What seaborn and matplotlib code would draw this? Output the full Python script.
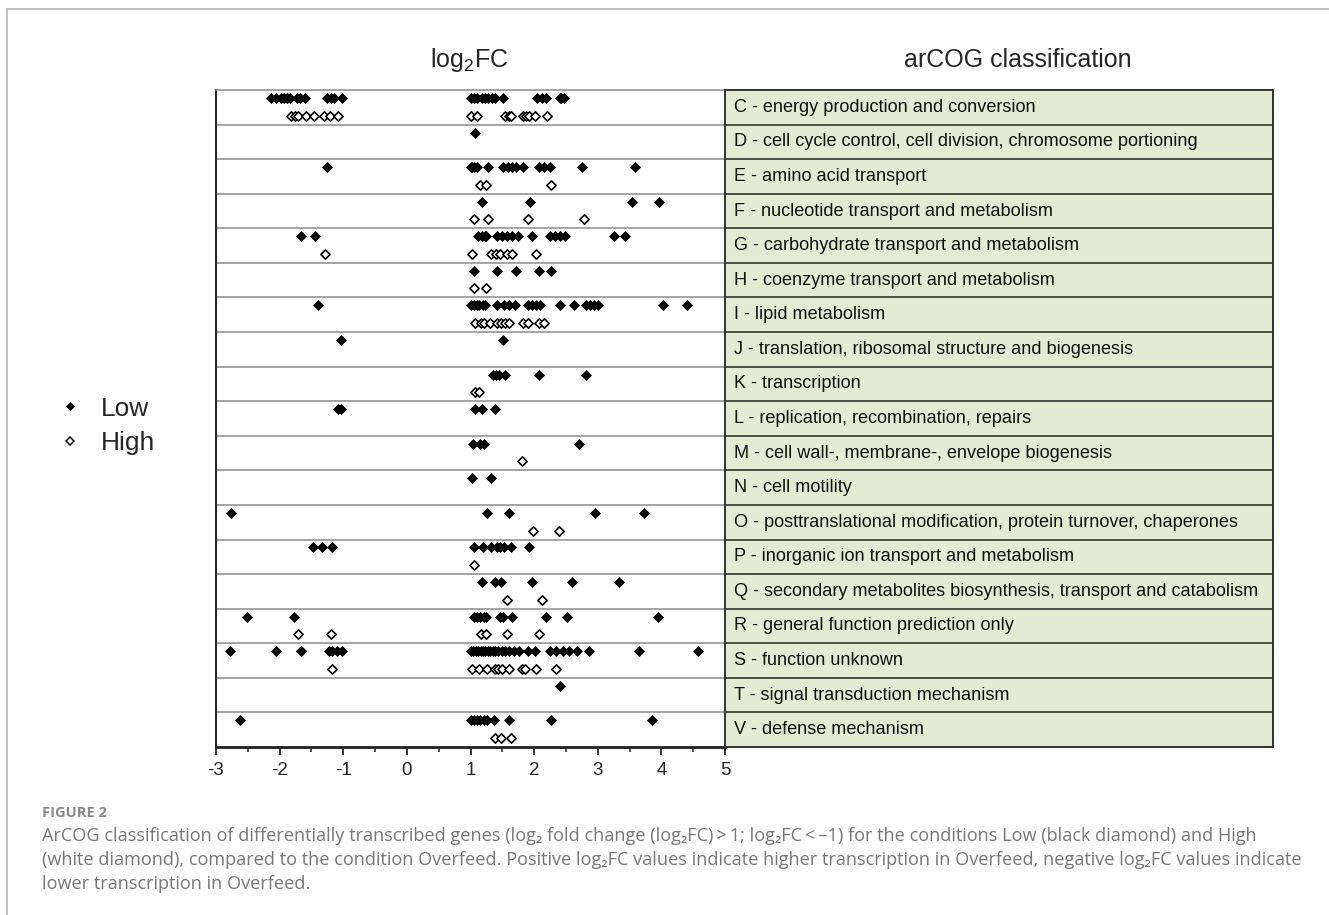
import numpy as np
import pandas as pd
import matplotlib
matplotlib.use('Agg')
import matplotlib.pyplot as plt
import seaborn as sns
from matplotlib.lines import Line2D
from matplotlib.ticker import MultipleLocator

# arCOG categories (top to bottom) and their descriptions
categories = ['C', 'D', 'E', 'F', 'G', 'H', 'I', 'J', 'K', 'L',
              'M', 'N', 'O', 'P', 'Q', 'R', 'S', 'T', 'V']
descriptions = [
    'energy production and conversion',
    'cell cycle control, cell division, chromosome portioning',
    'amino acid transport',
    'nucleotide transport and metabolism',
    'carbohydrate transport and metabolism',
    'coenzyme transport and metabolism',
    'lipid metabolism',
    'translation, ribosomal structure and biogenesis',
    'transcription',
    'replication, recombination, repairs',
    'cell wall-, membrane-, envelope biogenesis',
    'cell motility',
    'posttranslational modification, protein turnover, chaperones',
    'inorganic ion transport and metabolism',
    'secondary metabolites biosynthesis, transport and catabolism',
    'general function prediction only',
    'function unknown',
    'signal transduction mechanism',
    'defense mechanism',
]

# log2FC values, one list per category
low_values = [
    [-2.14, -2.05, -1.98, -1.93, -1.88, -1.84, -1.73, -1.68, -1.60, -1.26, -1.20, -1.15, -1.02,
     1.01, 1.06, 1.11, 1.18, 1.23, 1.28, 1.34, 1.39, 1.51, 2.04, 2.12, 2.19, 2.40, 2.43, 2.47],
    [1.07],
    [-1.25, 1.00, 1.03, 1.06, 1.10, 1.28, 1.51, 1.59, 1.65, 1.72, 1.83, 2.07, 2.15, 2.25, 2.75, 3.59],
    [1.18, 1.94, 3.54, 3.97],
    [-1.67, -1.44, 1.12, 1.18, 1.23, 1.25, 1.42, 1.49, 1.57, 1.65, 1.74, 1.96,
     2.25, 2.33, 2.41, 2.49, 3.25, 3.43],
    [1.05, 1.42, 1.72, 2.07, 2.27],
    [-1.40, 1.00, 1.05, 1.10, 1.14, 1.20, 1.23, 1.42, 1.52, 1.60, 1.70, 1.91, 1.96, 2.03, 2.09,
     2.41, 2.62, 2.81, 2.88, 2.94, 3.00, 4.02, 4.40],
    [-1.03, 1.51],
    [1.35, 1.40, 1.45, 1.54, 2.08, 2.82],
    [-1.09, -1.03, 1.07, 1.18, 1.39],
    [1.04, 1.15, 1.22, 2.71],
    [1.03, 1.32],
    [-2.77, 1.26, 1.61, 2.95, 3.72],
    [-1.48, -1.33, -1.18, 1.06, 1.20, 1.32, 1.41, 1.47, 1.52, 1.63, 1.92],
    [1.18, 1.38, 1.48, 1.96, 2.59, 3.33],
    [-2.52, -1.78, 1.05, 1.10, 1.15, 1.21, 1.25, 1.46, 1.51, 1.66, 2.19, 2.51, 3.94],
    [-2.78, -2.05, -1.67, -1.67, -1.67, -1.23, -1.17, -1.10, -1.02,
     1.00, 1.04, 1.08, 1.12, 1.16, 1.20, 1.23, 1.27, 1.31, 1.35, 1.39, 1.44, 1.49, 1.54, 1.60,
     1.69, 1.77, 1.90, 2.02, 2.25, 2.35, 2.45, 2.55, 2.68, 2.87, 3.65, 4.57],
    [2.40],
    [-2.63, 1.00, 1.05, 1.10, 1.15, 1.22, 1.26, 1.37, 1.60, 2.26, 3.85],
]
high_values = [
    [-1.82, -1.76, -1.71, -1.59, -1.46, -1.31, -1.21, -1.08,
     1.00, 1.10, 1.54, 1.60, 1.63, 1.83, 1.88, 1.92, 2.02, 2.20],
    [],
    [1.15, 1.25, 2.27],
    [1.05, 1.28, 1.91, 2.79],
    [-1.28, 1.03, 1.32, 1.40, 1.46, 1.57, 1.65, 2.03],
    [1.05, 1.24],
    [1.07, 1.16, 1.21, 1.30, 1.41, 1.48, 1.54, 1.61, 1.83, 1.91, 2.07, 2.15],
    [],
    [1.07, 1.14],
    [],
    [1.81],
    [],
    [1.98, 2.39],
    [1.05],
    [1.58, 2.13],
    [-1.71, -1.20, 1.16, 1.25, 1.57, 2.08],
    [-1.17, 1.02, 1.14, 1.26, 1.39, 1.44, 1.49, 1.61, 1.81, 1.86, 2.03, 2.35],
    [],
    [1.39, 1.48, 1.63],
]

labels = [f'{c} - {d}' for c, d in zip(categories, descriptions)]
n = len(categories)

records = []
for i, cat in enumerate(categories):
    for v in low_values[i]:
        records.append((cat, 'Low', v))
    for v in high_values[i]:
        records.append((cat, 'High', v))
df = pd.DataFrame(records, columns=['arcog', 'condition', 'log2FC'])
df['row'] = df['arcog'].map({c: i for i, c in enumerate(categories)})
# Low sits in the upper part of each row, High in the lower part
df['ypos'] = df['row'] + np.where(df['condition'] == 'Low', 0.23, 0.74)

sns.set_style('white')
plt.rcParams['font.family'] = ['Liberation Sans', 'DejaVu Sans']
plt.rcParams['axes.unicode_minus'] = False
plt.rcParams['mathtext.default'] = 'regular'

W, H = 1329, 915
fig = plt.figure(figsize=(W / 100, H / 100), dpi=100)


def box(x0, y0, x1, y1):
    return [x0 / W, 1 - y1 / H, (x1 - x0) / W, (y1 - y0) / H]


ax = fig.add_axes(box(216, 90, 725, 747))
tab = fig.add_axes(box(725, 90, 1273, 747))

# scatter of log2FC values
sns.scatterplot(data=df[df.condition == 'Low'], x='log2FC', y='ypos', marker='D', s=26,
                color='black', edgecolor='black', linewidth=0.5, ax=ax, legend=False, zorder=3)
sns.scatterplot(data=df[df.condition == 'High'], x='log2FC', y='ypos', marker='D', s=22,
                color='white', edgecolor='black', linewidth=1.2, ax=ax, legend=False, zorder=3)

ax.set_xlim(-3, 5)
ax.set_ylim(n, 0)
ax.xaxis.set_major_locator(MultipleLocator(1))
ax.xaxis.set_minor_locator(MultipleLocator(0.5))
ax.tick_params(axis='x', which='major', bottom=True, direction='out', length=6, width=1.3,
               labelsize=13.5, pad=5, color='#222222')
ax.tick_params(axis='x', which='minor', bottom=True, direction='out', length=3.5, width=1.1,
               color='#222222')
ax.set_yticks([])
ax.set_xlabel('')
ax.set_ylabel('')
for y in range(1, n):
    ax.axhline(y, color='#8c8c8c', lw=1.1, zorder=1)
ax.spines['top'].set_color('#8c8c8c')
ax.spines['top'].set_linewidth(1.1)
ax.spines['left'].set_color('#222222')
ax.spines['left'].set_linewidth(1.4)
ax.spines['bottom'].set_color('#222222')
ax.spines['bottom'].set_linewidth(2.0)
ax.spines['right'].set_visible(False)

# classification table
tab.set_xlim(0, 1)
tab.set_ylim(n, 0)
tab.set_facecolor('#e3ebd3')
tab.set_xticks([])
tab.set_yticks([])
for y in range(1, n):
    tab.axhline(y, color='#333333', lw=1.2)
for s in tab.spines.values():
    s.set_color('#333333')
    s.set_linewidth(1.4)
for i, lab in enumerate(labels):
    tab.text(9 / 548, i + 0.5, lab, ha='left', va='center', fontsize=13.1, color='#111111')

# column headers
fig.text(469 / W, 1 - 67 / H, 'log$_2$FC', ha='center', va='baseline', fontsize=18)
fig.text(1018 / W, 1 - 67 / H, 'arCOG classification', ha='center', va='baseline', fontsize=18)

# legend
handles = [Line2D([], [], marker='D', ls='', ms=4.4, mfc='black', mec='black', mew=0.5),
           Line2D([], [], marker='D', ls='', ms=4.0, mfc='white', mec='black', mew=1.1)]
fig.legend(handles, ['Low', 'High'], loc='center left', bbox_to_anchor=(57 / W, 1 - 426 / H),
           frameon=False, fontsize=19, handlelength=1.0, handletextpad=0.65,
           labelspacing=0.4, borderpad=0, borderaxespad=0)

# panel frame
fig.add_artist(Line2D([7 / W, 7 / W], [0, 1 - 9 / H], transform=fig.transFigure,
                      color='#b5b5b5', lw=1.2))
fig.add_artist(Line2D([7 / W, 1], [1 - 9 / H, 1 - 9 / H], transform=fig.transFigure,
                      color='#b5b5b5', lw=1.2))

# caption
cap_font = ['Open Sans', 'DejaVu Sans']
fig.text(42 / W, 1 - 817 / H, 'FIGURE 2', family=cap_font, fontsize=10.5,
         weight='bold', color='#8a8a8a', va='baseline')
caption = [
    'ArCOG classification of differentially transcribed genes (log\u2082 fold change (log\u2082FC)\u2009>\u20091; '
    'log\u2082FC\u2009<\u2009\u20131) for the conditions Low (black diamond) and High',
    '(white diamond), compared to the condition Overfeed. Positive log\u2082FC values indicate higher '
    'transcription in Overfeed, negative log\u2082FC values indicate',
    'lower transcription in Overfeed.',
]
for k, line in enumerate(caption):
    fig.text(42 / W, 1 - (841 + 23.8 * k) / H, line, family=cap_font, fontsize=13.1,
             color='#777777', va='baseline')

fig.savefig('out.png', dpi=100)
